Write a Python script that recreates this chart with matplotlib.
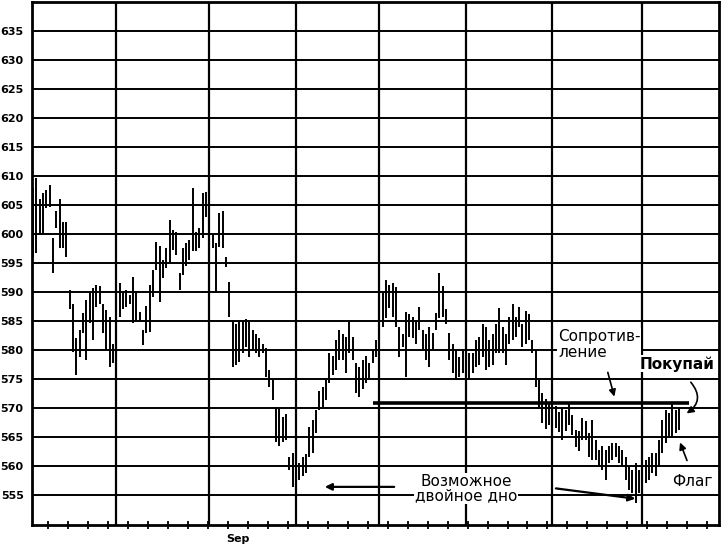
import numpy as np
import matplotlib
matplotlib.use("Agg")
import matplotlib.pyplot as plt

# Daily bars (high / low)
highs = [608, 609.6, 606, 607, 607.6, 608.5, 599.3, 604, 606, 602, 602,
         590.3, 588, 582, 583.5, 586.4, 588.6, 589.8, 590.7, 591.2, 591, 588,
         586.9, 585.7, 581, 584, 591.6, 589.8, 590.3, 589.5,
         592.6, 590, 586.5, 583.4, 587.6, 591.2, 593.8, 598.6, 598, 595.5,
         597.6, 602.4, 600.7, 600.4, 593.3, 597.6, 598.5, 599, 608, 600.3,
         601, 607, 607.2, 605.3, 600, 598.5, 603.6, 604, 596, 591.7, 584.8, 584.5,
         585, 585, 585.3, 585, 583.4, 582.8, 582, 581, 580.3, 576.5, 574.8,
         570.2, 570, 568.4, 569, 561.6, 562.2, 560.5, 560.5, 561.6, 562,
         566.7, 568, 569.7, 573, 573.6, 574.8, 579.5, 579, 581.7, 583.4,
         582.8, 582.2, 584.8, 582.2,
         577.8, 577, 578.3, 579, 577.8, 580, 581.7, 588.1, 589.8, 592, 591.2,
         591.5, 590.9, 584, 582.8, 586.6, 586.2, 585.7, 585, 587.4, 583.4,
         582.8, 584, 583, 586.4, 593.3, 591, 587, 583, 581, 580, 578.8, 580,
         578.3, 579.5, 579.5,
         581.7, 582.2, 584.5, 583.9, 581.7, 582.8, 584.5, 587.2, 584, 582.8,
         585.7, 588, 585.7, 587.4, 584.5, 586.8, 586.2, 581.7, 580, 574.8,
         572.6, 571.5, 571, 571.5, 570.4, 569.3, 570.2, 569.7, 571, 568.8,
         566.2, 566, 568.3, 567.8, 565.7,
         568, 564.5, 562.8, 563.4, 562.8, 563.4, 564, 564, 563.4, 562.8,
         561.6, 559.8, 559.3, 560.5, 559.3, 560.5, 561, 561.6, 562.2, 562.2,
         564.5, 568, 569.7, 569.1, 570.9, 569.7, 570.2]
lows = [596, 596.7, 600, 600, 604.5, 604.7, 593.3, 601, 597.6, 597.6, 596,
        587, 579.7, 575.7, 578.8, 583, 578.3, 584.7, 581.7, 587.4, 588, 583,
        580, 577, 577.7, 578.3, 585.7, 587, 587.4, 588,
        584.7, 585, 585, 580.8, 583, 583.1, 589.1, 593.8, 588.3, 592.5,
        594.1, 595.2, 597.2, 596.4, 590.3, 593, 594.5, 595.5, 597, 597,
        597.6, 599.3, 603, 598, 597.6, 590, 597.8, 597.6, 594.3, 585.7, 577, 577.5,
        578, 579.5, 580.5, 578.8, 580, 579.5, 578.8, 579.5, 575.3, 573.6, 571.4,
        564.1, 563.5, 564.1, 564.5, 559.3, 556.4, 556.4, 557.6, 558.2, 558.8,
        561.6, 562.2, 565.7, 569.7, 570.2, 571.4, 574.3, 575.7, 576.6, 578.3,
        578.3, 576, 579.5, 578.3,
        572.6, 571.9, 573.2, 574.3, 575, 577.8, 578.8, 580.5, 584, 585.5, 587.2,
        585.7, 584, 578.8, 580.5, 575.3, 582.2, 582, 581, 583.4, 580,
        578.3, 577, 580, 583.4, 585.5, 585.7, 584.5, 578.3, 576, 574.8, 575.3, 576,
        573.6, 574.8, 576,
        577, 577.5, 578.8, 576.6, 577, 577.5, 579.5, 579.5, 579.5, 577.5,
        581, 581.7, 582.2, 584, 580.5, 581, 581.7, 579.5, 573.6, 570.2,
        567.4, 566.3, 567, 567.5, 566.5, 565.8, 564.5, 566, 567, 565.3,
        563.3, 562.5, 564.5, 564.5, 561.6,
        561, 561, 559.8, 559.3, 557.6, 560.5, 561, 561.6, 560.5, 560,
        557.6, 555.8, 555.3, 553.6, 555.3, 556.4, 557, 557.6, 558.8, 558.2,
        559.8, 562.2, 564, 565, 565, 565.7, 566.2]

y_ticks = list(range(555, 640, 5))
month_lines = [25, 53, 79, 104, 130, 156, 183]
resistance = 570.9

fig = plt.figure(figsize=(7.22, 5.46), dpi=100)
ax = fig.add_axes([0.0443, 0.0385, 0.9515, 0.9578])

days = np.arange(len(highs))
ax.vlines(days, lows, highs, color="black", lw=1.4)

# grid
for v in y_ticks:
    ax.axhline(v, color="black", lw=1.4, zorder=0)
for m in month_lines:
    ax.axvline(m, color="black", lw=1.6, zorder=0)

# resistance line
ax.hlines(resistance, 102, 197, color="black", lw=2.6)

ax.set_xlim(-0.3, 206)
ax.set_ylim(549.83, 640)
ax.set_yticks(y_ticks)
ax.set_yticklabels([str(v) for v in y_ticks], fontsize=8, fontweight="bold")
ax.tick_params(axis="y", length=0, pad=6)
ax.set_xticks(np.arange(4.5, 206, 6))
ax.set_xticklabels([])
ax.tick_params(axis="x", direction="inout", length=6, width=1.3)
for s in ax.spines.values():
    s.set_linewidth(2)
ax.text(61.5, 548.3, "Sep", fontsize=8, fontweight="bold", ha="center", va="top")

# annotations
box = dict(facecolor="white", edgecolor="none", pad=0.5)
ax.text(157.7, 580.9, "Сопротив-\nление", fontsize=11, ha="left", va="center",
        linespacing=1.1, bbox=box)
ax.annotate("", xy=(174.8, 571.5), xytext=(172.4, 576.6),
            arrowprops=dict(arrowstyle="-|>", color="black", lw=1.2, mutation_scale=10))
ax.text(193.4, 577.6, "Покупай", fontsize=11, fontweight="bold", ha="center",
        va="center", bbox=box)
ax.annotate("", xy=(195.6, 568.8), xytext=(197.0, 574.8),
            arrowprops=dict(arrowstyle="-|>", color="black", lw=1.2, mutation_scale=10,
                            connectionstyle="arc3,rad=-0.6"))
ax.text(198, 557.4, "Флаг", fontsize=11, ha="center", va="center", bbox=box)
ax.annotate("", xy=(194.0, 564.5), xytext=(196.7, 560.5),
            arrowprops=dict(arrowstyle="-|>", color="black", lw=1.2, mutation_scale=10))
ax.text(130, 556.1, "Возможное\nдвойное дно", fontsize=11, ha="center", va="center",
        linespacing=1.0, bbox=box)
ax.annotate("", xy=(86.8, 556.4), xytext=(109.3, 556.4),
            arrowprops=dict(arrowstyle="-|>", color="black", lw=1.6, mutation_scale=10))
ax.annotate("", xy=(181.7, 554.3), xytext=(156.2, 556.2),
            arrowprops=dict(arrowstyle="-|>", color="black", lw=1.6, mutation_scale=10))

fig.savefig("out.png", dpi=100)
